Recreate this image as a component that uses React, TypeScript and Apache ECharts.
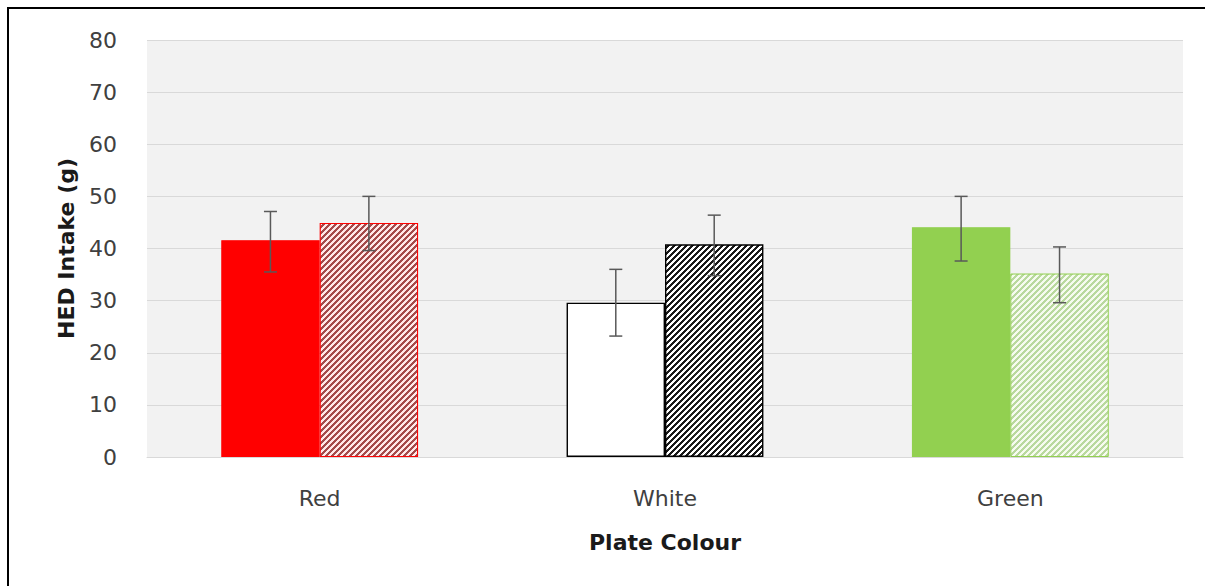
import React, { useEffect, useRef } from "react";
import * as echarts from "echarts";

const categories = ["Red", "White", "Green"];
const solidValues = [41.6, 29.6, 44.1];
const hatchedValues = [44.9, 40.8, 35.2];
const solidErrLow = [35.5, 23.2, 37.6];
const solidErrHigh = [47.1, 36.0, 50.0];
const hatchedErrLow = [39.6, 34.8, 29.6];
const hatchedErrHigh = [50.0, 46.4, 40.3];
const yTicks = [0, 10, 20, 30, 40, 50, 60, 70, 80];

const solidFill = ["#ff0000", "#ffffff", "#92d050"];
const solidBorder = ["#ff0000", "#000000", "#92d050"];
const hatchLine = ["#a54a4a", "#1a1a1a", "#b9d99e"];
const hatchFill = ["#ffe8e8", "#ffffff", "#f6fbef"];
const hatchBorder = ["#ff0000", "#000000", "#92d050"];
const hatchWidth = [1.1, 1.4, 1.0];

const CAT_GAP = 0.43;
const FONT = "DejaVu Sans";

function makeHatch(line: string, bg: string) {
  const P = 6;
  const c = document.createElement("canvas");
  c.width = P;
  c.height = P;
  const ctx = c.getContext("2d")!;
  ctx.fillStyle = bg;
  ctx.fillRect(0, 0, P, P);
  for (let y = 0; y < P; y++) {
    for (let x = 0; x < P; x++) {
      const k = (x + y) % P;
      if (k < 3) {
        ctx.fillStyle = line;
        ctx.fillRect(x, y, 1, 1);
      }
    }
  }
  return c;
}

export default function App() {
  const ref = useRef<HTMLDivElement>(null);
  useEffect(() => {
    document.body.style.margin = "0";
    const chart = echarts.init(ref.current!, undefined, { renderer: "svg" });
    const errSeries = (low: number[], high: number[], side: number) => ({
      type: "custom",
      z: 10,
      data: categories.map((_, i) => [i, low[i], high[i]]),
      encode: { x: 0, y: [1, 2] },
      renderItem: (params: any, api: any) => {
        const cat = api.value(0);
        const band = api.size([1, 0])[0];
        const bw = (band * (1 - CAT_GAP)) / 2;
        const x = api.coord([cat, 0])[0] + (side * bw) / 2;
        const yLo = api.coord([cat, api.value(1)])[1];
        const yHi = api.coord([cat, api.value(2)])[1];
        const cap = 6.5;
        const style = { stroke: "#595959", lineWidth: 1.5 };
        return {
          type: "group",
          children: [
            { type: "line", shape: { x1: x, y1: yLo, x2: x, y2: yHi }, style },
            { type: "line", shape: { x1: x - cap, y1: yHi, x2: x + cap, y2: yHi }, style },
            { type: "line", shape: { x1: x - cap, y1: yLo, x2: x + cap, y2: yLo }, style },
          ],
        };
      },
    });
    chart.setOption({
      animation: false,
      backgroundColor: "#ffffff",
      grid: {
        left: 147,
        right: 22,
        top: 40,
        bottom: 129,
        show: true,
        backgroundColor: "#f2f2f2",
        borderWidth: 0,
      },
      graphic: [
        {
          type: "polyline",
          shape: { points: [[8, 900], [8, 8], [1500, 8]] },
          style: { fill: "none", stroke: "#000000", lineWidth: 2 },
          z: 100,
        },
      ],
      xAxis: {
        type: "category",
        data: categories,
        name: "Plate Colour",
        nameLocation: "middle",
        nameGap: 74,
        nameTextStyle: { fontFamily: FONT, fontSize: 22, fontWeight: "bold", color: "#1a1a1a" },
        axisLine: { show: true, lineStyle: { color: "#d9d9d9", width: 1 } },
        axisTick: { show: false },
        axisLabel: { fontFamily: FONT, fontSize: 22, color: "#404040", margin: 30 },
      },
      yAxis: {
        type: "value",
        min: yTicks[0],
        max: yTicks[yTicks.length - 1],
        interval: 10,
        name: "HED Intake (g)",
        nameLocation: "middle",
        nameGap: 70,
        nameTextStyle: { fontFamily: FONT, fontSize: 22, fontWeight: "bold", color: "#1a1a1a" },
        axisLine: { show: false },
        axisTick: { show: false },
        axisLabel: { fontFamily: FONT, fontSize: 22, color: "#404040", margin: 30 },
        splitLine: { show: true, lineStyle: { color: "#d9d9d9", width: 1 } },
      },
      series: [
        {
          type: "bar",
          barGap: "0%",
          barCategoryGap: CAT_GAP * 100 + "%",
          data: solidValues.map((v, i) => ({
            value: v,
            itemStyle: { color: solidFill[i], borderColor: solidBorder[i], borderWidth: 1.4 },
          })),
        },
        {
          type: "bar",
          barGap: "0%",
          barCategoryGap: CAT_GAP * 100 + "%",
          data: hatchedValues.map((v, i) => ({
            value: v,
            itemStyle: {
              color: { image: makeHatch(hatchLine[i], hatchFill[i]), repeat: "repeat" },
              borderColor: hatchBorder[i],
              borderWidth: hatchWidth[i],
            },
          })),
        },
        errSeries(solidErrLow, solidErrHigh, -1),
        errSeries(hatchedErrLow, hatchedErrHigh, 1),
      ],
    });
    return () => chart.dispose();
  }, []);
  return <div ref={ref} style={{ width: 1205, height: 586 }} />;
}
